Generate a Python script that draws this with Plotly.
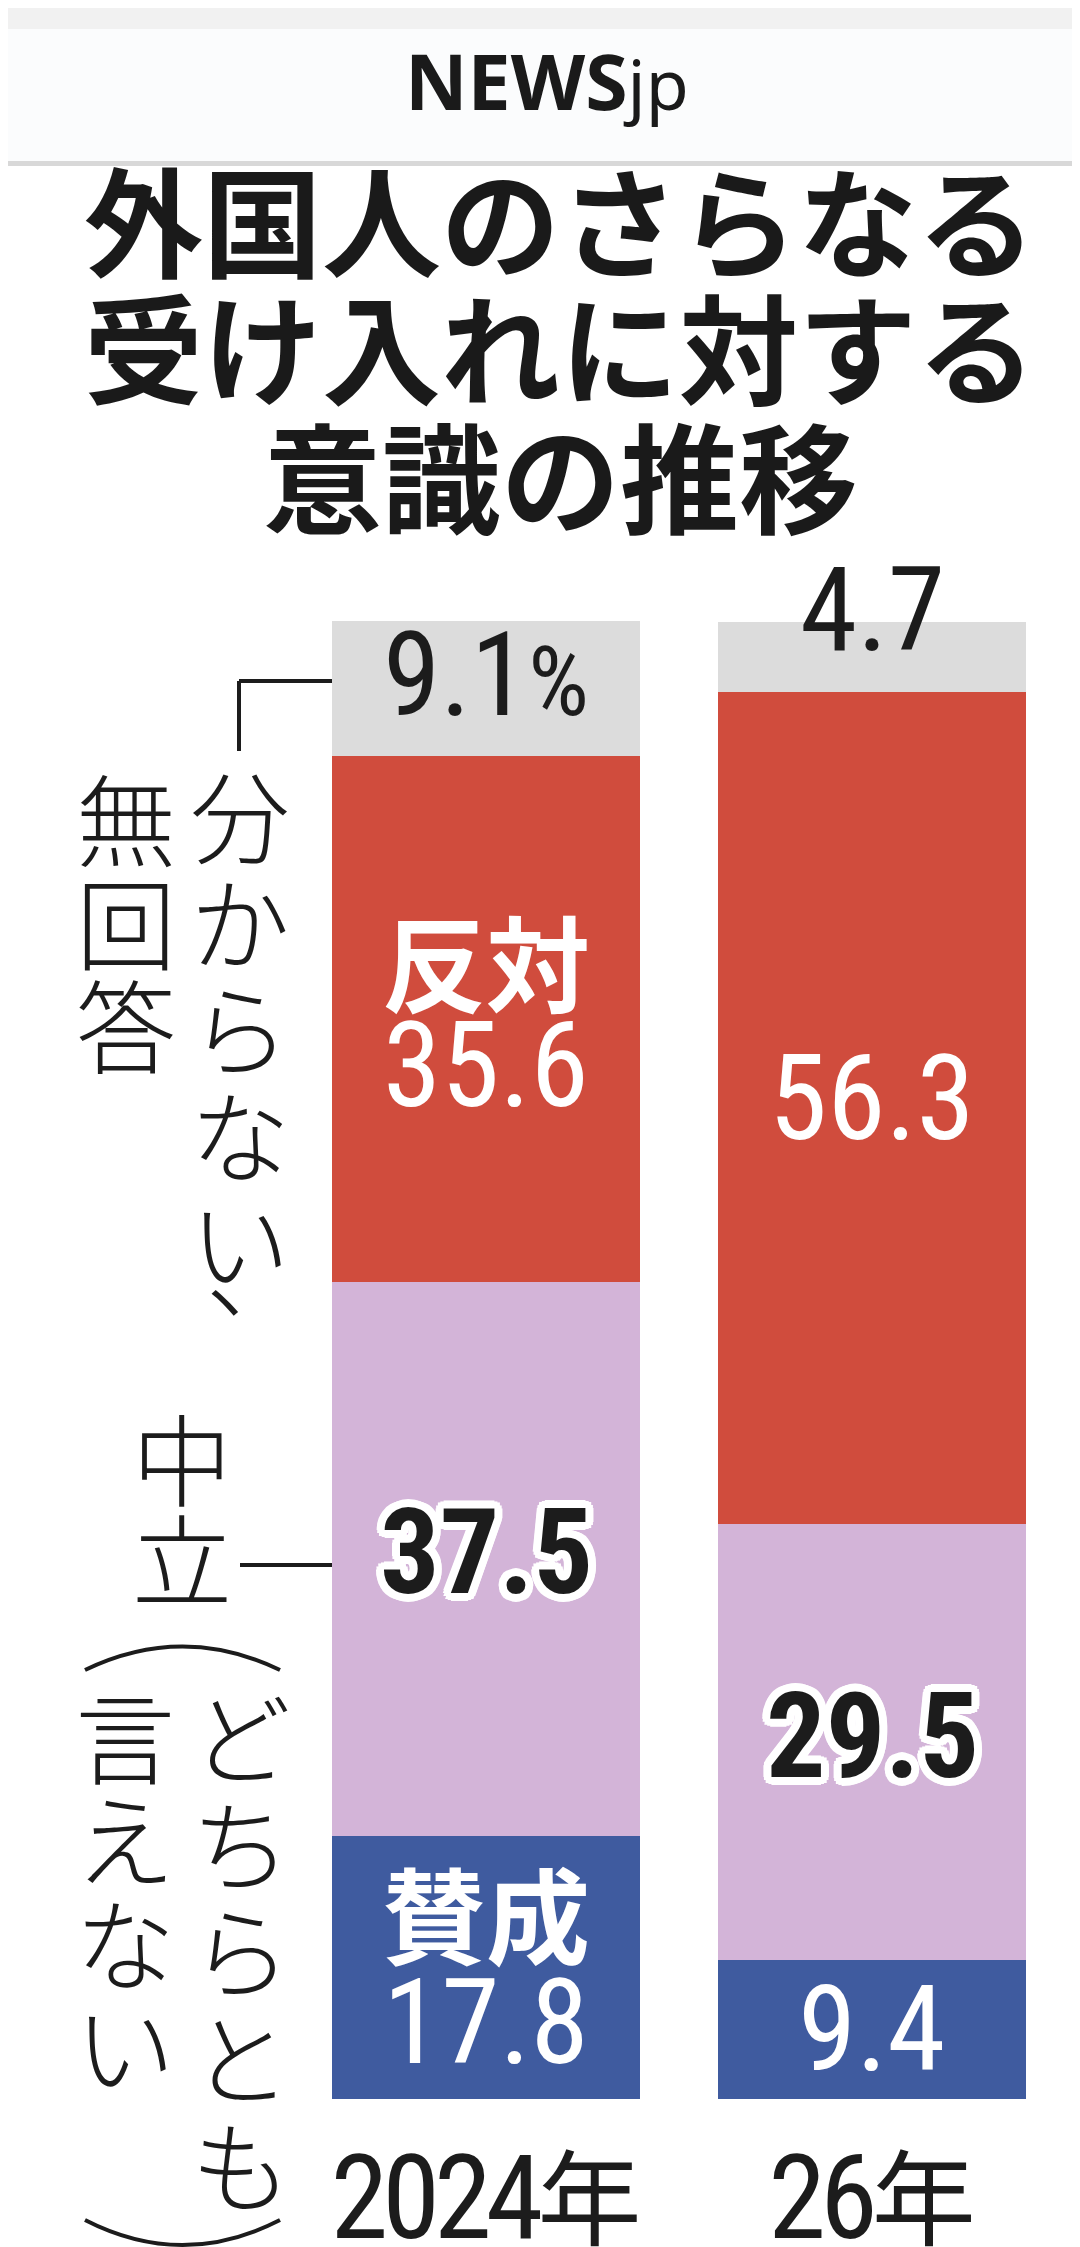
import math
import plotly.graph_objects as go

# survey results (%), stacked bottom -> top
years = ["2024年", "26年"]
support = [17.8, 9.4]     # 賛成
neutral = [37.5, 29.5]    # 中立（どちらとも言えない）
oppose = [35.6, 56.3]     # 反対
unknown = [9.1, 4.7]      # 分からない、無回答

W, H = 1080, 2247
BLUE = "#3f5b9f"
PURPLE = "#d3b4d8"
RED = "#d04c3d"
GRAY = "#dcdcdc"
INK = "#1c1c1c"

NUM_FONT = "Roboto Condensed, Noto Sans CJK JP, sans-serif"
JP_FONT = "Noto Sans CJK JP, sans-serif"


def px(x):
    return x / W


def py(y):
    return 1 - y / H


fig = go.Figure()
for name, vals, col in [("賛成", support, BLUE), ("中立", neutral, PURPLE),
                        ("反対", oppose, RED), ("分からない、無回答", unknown, GRAY)]:
    fig.add_trace(go.Bar(x=years, y=vals, name=name,
                         marker=dict(color=col, line=dict(width=0)),
                         hoverinfo="skip"))

ann = []

# white outline for the numbers on the purple segment
outline = ", ".join(f"{8*math.cos(a*math.pi/8):.1f}px {8*math.sin(a*math.pi/8):.1f}px 0 #fff"
                    for a in range(16))


def seg_label(i, y, text, size, color, yshift=0, weight="normal", family=NUM_FONT, shadow="none"):
    ann.append(dict(x=years[i], y=y, xref="x", yref="y", text=text, showarrow=False,
                    yshift=yshift, xanchor="center", yanchor="middle",
                    font=dict(family=family, size=size, color=color, weight=weight, shadow=shadow)))


for i in range(len(years)):
    b1 = support[i]
    b2 = b1 + neutral[i]
    b3 = b2 + oppose[i]
    top = b3 + unknown[i]
    # 賛成
    if i == 0:
        seg_label(i, b1 / 2, "賛成", 104, "#ffffff", 56, "bold", JP_FONT)
        seg_label(i, b1 / 2, f"{support[i]}", 118, "#ffffff", -56)
    else:
        seg_label(i, b1 / 2, f"{support[i]}", 118, "#ffffff", 0)
    # 中立
    seg_label(i, (b1 + b2) / 2, f"{neutral[i]}", 118, INK, 6 - i, "bold", shadow=outline)
    # 反対
    if i == 0:
        seg_label(i, (b2 + b3) / 2, "反対", 104, "#ffffff", 59, "bold", JP_FONT)
        seg_label(i, (b2 + b3) / 2, f"{oppose[i]}", 118, "#ffffff", -47)
    else:
        seg_label(i, (b2 + b3) / 2, f"{oppose[i]}", 118, "#ffffff", 9)
    # 分からない、無回答
    if i == 0:
        seg_label(i, (b3 + top) / 2, f"{unknown[i]}<span style='font-size:96px'>%</span>", 116, INK, 13)
    else:
        seg_label(i, top, f"{unknown[i]}", 116, INK, 12)


def text_at(x, y, text, font):
    ann.append(dict(x=px(x), y=py(y), xref="paper", yref="paper", showarrow=False, text=text,
                    xanchor="center", yanchor="middle", font=font))


# header and title
text_at(539, 72, "<b>NEWS</b><span style='font-size:70px'>jp</span>",
        dict(family="Noto Sans, Open Sans, sans-serif", size=77, color="#1a1a1a"))
for txt, yc in [("外国人のさらなる", 209), ("受け入れに対する", 336), ("意識の推移", 465)]:
    text_at(552, yc, txt, dict(family=JP_FONT, size=119, color="#1a1a1a", weight="bold"))


# vertical side labels, one character per cell
SIDE = dict(family=JP_FONT, size=100, color=INK, weight=300)


def vcol(chars, xc, y0, step):
    for k, ch in enumerate(chars):
        text_at(xc, y0 + k * step, ch, SIDE)


vcol("分からない", 232, 804, 106.5)
text_at(186, 1320, "︑", SIDE)
vcol("無回答", 118, 808, 103.5)
vcol("中立", 174, 1447, 100)
vcol("どちらとも", 233, 1725, 107)
vcol("言えない", 117, 1725, 103)

line = dict(color=INK, width=4)
shapes = [
    dict(type="rect", xref="paper", yref="paper", x0=0, x1=1, y0=py(21), y1=1,
         fillcolor="#f1f1f1", line=dict(width=0), layer="below"),
    dict(type="rect", xref="paper", yref="paper", x0=0, x1=1, y0=py(153), y1=py(21),
         fillcolor="#fbfcfd", line=dict(width=0), layer="below"),
    dict(type="rect", xref="paper", yref="paper", x0=0, x1=1, y0=py(158), y1=py(153),
         fillcolor="#d8d8d8", line=dict(width=0), layer="below"),
    # bracket for 分からない、無回答
    dict(type="line", xref="paper", yref="paper", x0=px(231), x1=px(324), y0=py(673), y1=py(673), line=line),
    dict(type="line", xref="paper", yref="paper", x0=px(231), x1=px(231), y0=py(673), y1=py(743), line=line),
    # leader for 中立
    dict(type="line", xref="paper", yref="paper", x0=px(232), x1=px(324), y0=py(1557), y1=py(1557), line=line),
]


def arc(x0, x1, y_end, y_ctrl):
    xm = (x0 + x1) / 2
    return dict(type="path", xref="paper", yref="paper",
                path=f"M {px(x0)} {py(y_end)} Q {px(xm)} {py(y_ctrl)} {px(x1)} {py(y_end)}",
                line=dict(color=INK, width=4))


shapes.append(arc(77, 272, 1662, 1615))
shapes.append(arc(77, 272, 2212, 2262))

ticktext = [f"<span style='letter-spacing:-6px'>{y[:-1]}</span><span style='font-size:104px'>{y[-1]}</span>"
            for y in years]

fig.update_layout(
    width=W, height=H,
    margin=dict(l=0, r=0, t=0, b=0),
    paper_bgcolor="#ffffff", plot_bgcolor="#ffffff",
    barmode="stack", bargap=0.202,
    showlegend=False,
    xaxis=dict(domain=[px(285), px(1057)], showline=False, showgrid=False, zeroline=False,
               ticks="", tickvals=years, ticktext=ticktext, ticklabelstandoff=21, automargin=False,
               tickfont=dict(family=NUM_FONT, size=117, color=INK), fixedrange=True),
    yaxis=dict(domain=[py(2091), py(613)], range=[0, 100], visible=False, fixedrange=True,
               automargin=False),
    annotations=ann,
    shapes=shapes,
)

fig.write_html("out.html")
